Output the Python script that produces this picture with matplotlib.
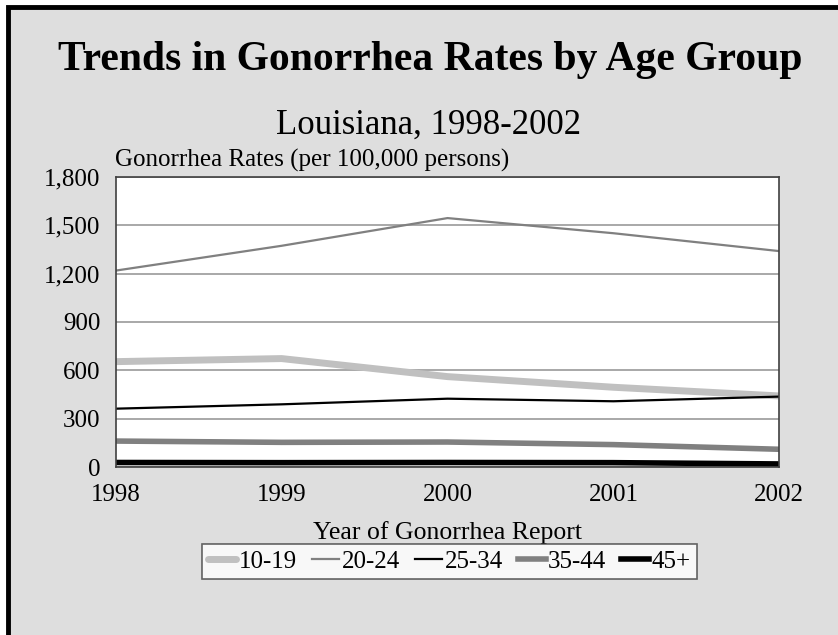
import matplotlib.pyplot as plt
from matplotlib.ticker import FuncFormatter

plt.rcParams['font.family'] = ['Liberation Serif', 'DejaVu Serif']

years = [1998, 1999, 2000, 2001, 2002]
age_10_19 = [654, 673, 561, 495, 441]
age_20_24 = [1219, 1373, 1545, 1451, 1340]
age_25_34 = [362, 389, 424, 408, 437]
age_35_44 = [161, 153, 155, 139, 110]
age_45_plus = [28, 27, 28, 27, 19]

fig = plt.figure(figsize=(8.38, 6.35), dpi=100, facecolor='white')

# slide background with black frame on top and left
bg = fig.add_axes([0, 0, 1, 1])
bg.set_xlim(0, 838)
bg.set_ylim(635, 0)
bg.axis('off')
bg.add_patch(plt.Rectangle((8, 7), 840, 640, facecolor='#dedede',
                           edgecolor='black', linewidth=3.5))

fig.text(0.513, 0.905, "Trends in Gonorrhea Rates by Age Group", ha='center',
         va='center', fontsize=30, fontweight='bold')
fig.text(0.511, 0.803, "Louisiana, 1998-2002", ha='center', va='center',
         fontsize=25)
fig.text(115 / 838, 1 - 160 / 635, "Gonorrhea Rates (per 100,000 persons)",
         ha='left', va='center', fontsize=18)

ax = fig.add_axes([115.7 / 838, 1 - 467 / 635, (779.3 - 115.7) / 838,
                   (467 - 177) / 635])
ax.set_facecolor('white')

ax.plot(years, age_10_19, color='#c0c0c0', lw=5, label='10-19',
        solid_capstyle='round')
ax.plot(years, age_20_24, color='#808080', lw=1.6, label='20-24')
ax.plot(years, age_25_34, color='black', lw=1.6, label='25-34')
ax.plot(years, age_35_44, color='#808080', lw=4, label='35-44')
ax.plot(years, age_45_plus, color='black', lw=4, label='45+')

ax.set_xlim(1998, 2002)
ax.set_ylim(0, 1800)
ax.set_yticks(range(0, 1801, 300))
ax.set_xticks(years)
ax.yaxis.set_major_formatter(FuncFormatter(lambda v, p: f"{int(v):,}"))
ax.grid(axis='y', color='#999999', lw=1.2)
ax.set_axisbelow(True)
ax.tick_params(length=0, labelsize=18)
ax.tick_params(axis='y', pad=11)
ax.tick_params(axis='x', pad=12)
for s in ax.spines.values():
    s.set_color('#404040')
    s.set_linewidth(1.2)

ax.set_xlabel("Year of Gonorrhea Report", fontsize=18.5, labelpad=11)

leg = ax.legend(loc='center', bbox_to_anchor=(0.503, -0.327), ncol=5,
                fontsize=18, frameon=True, fancybox=False, handlelength=1.1,
                handletextpad=0.1, columnspacing=0.6, borderpad=0.25,
                borderaxespad=0)
leg.get_frame().set_edgecolor('#404040')
leg.get_frame().set_linewidth(1.2)

fig.savefig('out.png', dpi=100)
